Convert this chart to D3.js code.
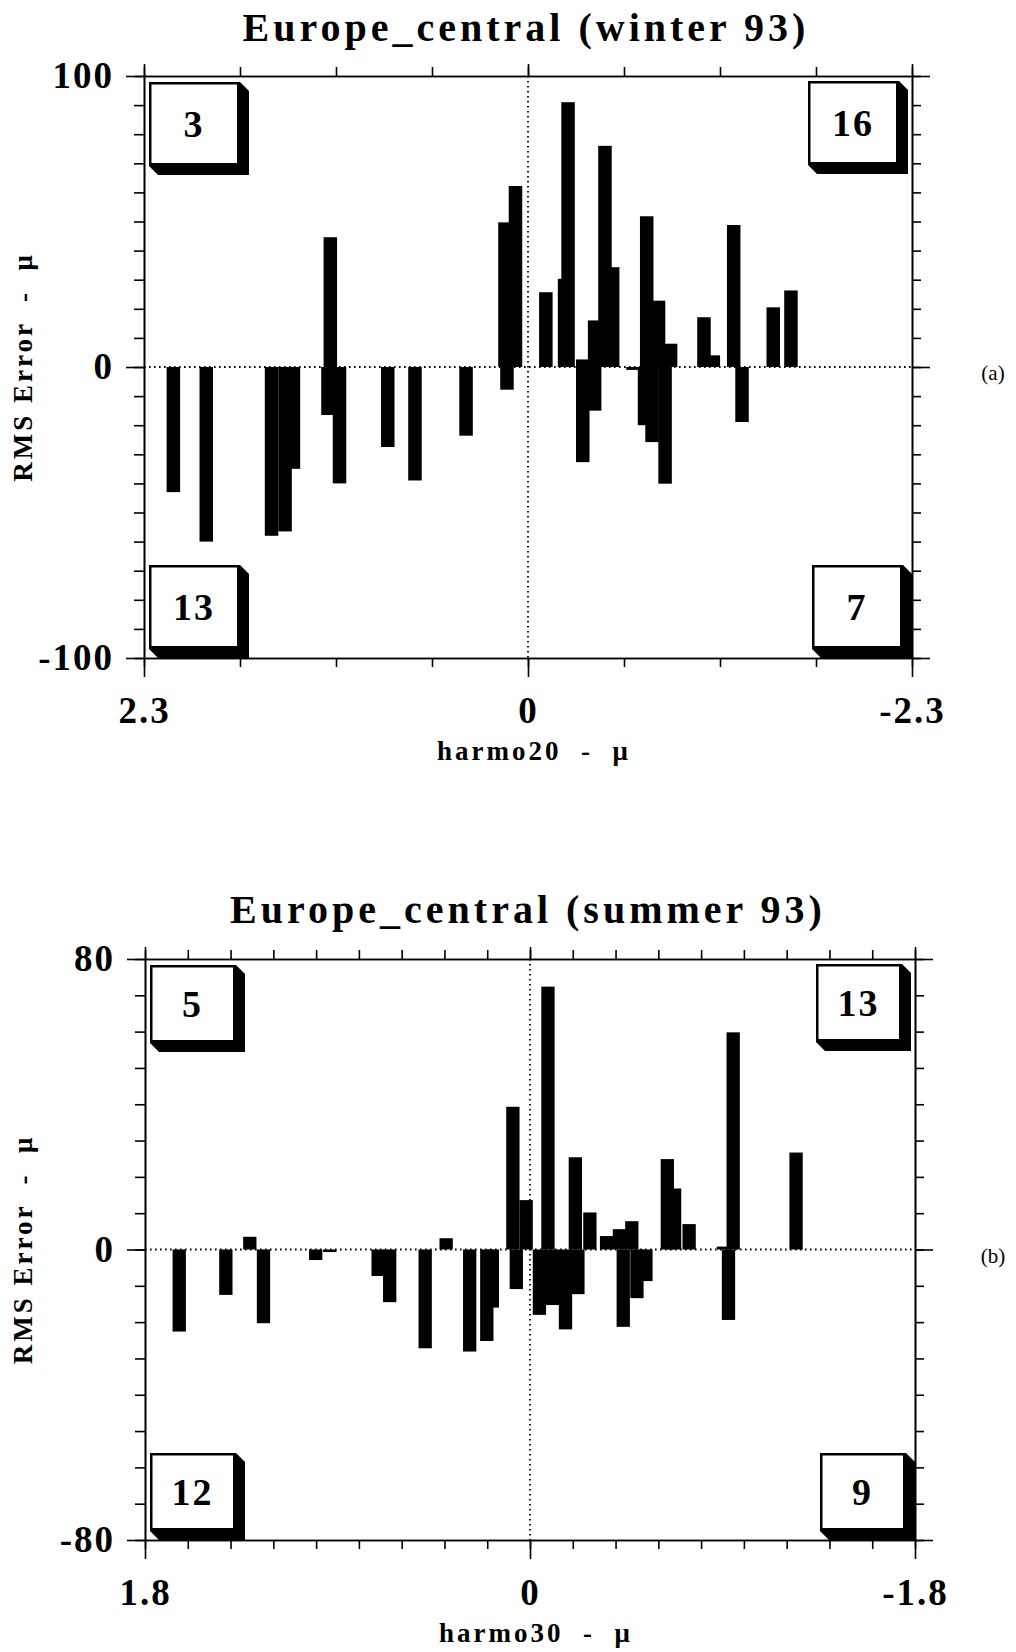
<!DOCTYPE html>
<html>
<head>
<meta charset="utf-8">
<script src="https://cdnjs.cloudflare.com/ajax/libs/d3/7.8.5/d3.min.js"></script>
<style>
  body { margin: 0; background: #fff; }
  svg text { font-family: "Liberation Serif", "Times New Roman", serif; font-weight: bold; fill: #000; }
</style>
</head>
<body>
<div id="chart"></div>
<script>
// panel (a): winter 93
const winterTitle = 'Europe_central (winter 93)';
const winterXTitle = 'harmo20  -  \u03bc';
const winterXLabels = ['2.3', '0', '-2.3'];
const winterYLabels = ['100', '0', '-100'];
const winterCounts = [3, 16, 13, 7]; // upper-left, upper-right, lower-left, lower-right
const winterX = [2.124, 1.927, 1.536, 1.455, 1.405, 1.198, 1.184, 1.129, 0.840, 0.677,
  0.371, 0.138, 0.126, 0.075, -0.107, -0.219, -0.240, -0.328, -0.328, -0.399,
  -0.399, -0.461, -0.507, -0.629, -0.698, -0.711, -0.743, -0.782, -0.821, -0.854,
  -1.054, -1.110, -1.232, -1.282, -1.469, -1.575];
const winterY = [-43, -60, -58, -56.5, -35, -16.5, 44.6, -40, -27.5, -39,
  -23.6, 49.7, -7.8, 62.2, 25.7, 30.3, 91, 2.6, -32.7, 16,
  -15, 76, 34.3, -1, -20, 51.8, -25.8, 22.8, -40.1, 8,
  17.1, 4, 48.8, -18.9, 20.5, 26.3];

// panel (b): summer 93
const summerTitle = 'Europe_central (summer 93)';
const summerXTitle = 'harmo30  -  \u03bc';
const summerXLabels = ['1.8', '0', '-1.8'];
const summerYLabels = ['80', '0', '-80'];
const summerCounts = [5, 13, 12, 9];
const summerX = [1.640, 1.422, 1.310, 1.246, 1.002, 0.936, 0.710, 0.656, 0.490, 0.392,
  0.282, 0.202, 0.176, 0.080, 0.064, 0.018, -0.044, -0.084, -0.106, -0.166,
  -0.224, -0.212, -0.280, -0.358, -0.418, -0.476, -0.436, -0.500, -0.542, -0.642,
  -0.676, -0.744, -0.904, -0.928, -0.950, -1.244];
const summerY = [-22.6, -12.5, 3.5, -20.3, -2.9, -0.7, -7.3, -14.5, -27.2, 3.1,
  -28.1, -25.2, -16, 39.3, -10.9, 13.6, -18, 72.4, -15.3, -22,
  -12.3, 25.4, 10.2, 3.7, 5.6, 7.8, -21.3, -13.4, -8.7, 24.9,
  16.8, 7, 0.8, -19.4, 59.8, 26.7];

const width = 1016, height = 1652;
const svg = d3.select('#chart').append('svg').attr('width', width).attr('height', height);
svg.append('rect').attr('width', width).attr('height', height).attr('fill', '#fff');

function drawPanel(p){
  const g = svg.append('g');
  const x = d3.scaleLinear().domain([p.xMax, -p.xMax]).range([p.left, p.right]);
  const y = d3.scaleLinear().domain([-p.yMax, p.yMax]).range([p.bottom, p.top]);

  const xMinor = d3.range(-p.xMax, p.xMax + p.xStep / 2, p.xStep);
  const yMinor = d3.range(-p.yMax, p.yMax + 0.001, 10);
  const xMajor = [p.xMax, 0, -p.xMax];
  const yMajor = [p.yMax, 0, -p.yMax];

  // title
  g.append('text').attr('x', (p.left + p.right) / 2 - 2).attr('y', p.titleY)
    .attr('text-anchor', 'middle').style('font-size', '40px').style('letter-spacing', '4px')
    .text(p.title);

  // zero lines (dotted)
  g.append('line').attr('x1', p.left).attr('x2', p.right).attr('y1', y(0)).attr('y2', y(0))
    .attr('stroke', '#000').attr('stroke-width', 1.8).attr('stroke-dasharray', '1.6,3.4');
  g.append('line').attr('x1', x(0)).attr('x2', x(0)).attr('y1', p.top).attr('y2', p.bottom)
    .attr('stroke', '#000').attr('stroke-width', 1.8).attr('stroke-dasharray', '1.6,3.4');

  // bars
  const bars = p.xs.map((d, i) => ({x: d, y: p.ys[i]}));
  g.selectAll('rect.bar').data(bars).enter().append('rect').attr('class', 'bar')
    .attr('x', d => x(d.x) - p.barW / 2)
    .attr('y', d => y(Math.max(0, d.y)))
    .attr('width', p.barW)
    .attr('height', d => Math.abs(y(d.y) - y(0)))
    .attr('fill', '#000');

  // axes: minor ticks
  const axes = [
    g.append('g').attr('transform', `translate(${p.left},0)`).call(d3.axisLeft(y).tickValues(yMinor).tickSize(10).tickSizeOuter(0).tickFormat('')),
    g.append('g').attr('transform', `translate(${p.right},0)`).call(d3.axisRight(y).tickValues(yMinor).tickSize(9).tickSizeOuter(0).tickFormat('')),
    g.append('g').attr('transform', `translate(0,${p.top})`).call(d3.axisTop(x).tickValues(xMinor).tickSize(9).tickSizeOuter(0).tickFormat('')),
    g.append('g').attr('transform', `translate(0,${p.bottom})`).call(d3.axisBottom(x).tickValues(xMinor).tickSize(9).tickSizeOuter(0).tickFormat(''))
  ];
  // major ticks with labels
  const yl = g.append('g').attr('transform', `translate(${p.left},0)`)
    .call(d3.axisLeft(y).tickValues(yMajor).tickSize(18).tickSizeOuter(0).tickPadding(12)
      .tickFormat((d, i) => p.yLabels[i]));
  axes.push(yl);
  axes.push(g.append('g').attr('transform', `translate(${p.right},0)`)
    .call(d3.axisRight(y).tickValues(yMajor).tickSize(18).tickSizeOuter(0).tickFormat('')));
  axes.push(g.append('g').attr('transform', `translate(0,${p.top})`)
    .call(d3.axisTop(x).tickValues(xMajor).tickSize(12).tickSizeOuter(0).tickFormat('')));
  const xl = g.append('g').attr('transform', `translate(0,${p.bottom})`)
    .call(d3.axisBottom(x).tickValues(xMajor).tickSize(19).tickSizeOuter(0).tickPadding(20)
      .tickFormat((d, i) => p.xLabels[i]));
  axes.push(xl);
  axes.forEach(a => {
    a.selectAll('path, line').attr('stroke', '#000').attr('stroke-width', 1.6);
    a.selectAll('text').attr('font-family', null).attr('font-size', null)
      .style('font-size', '37px').style('letter-spacing', '2px');
  });

  // axis titles
  g.append('text').attr('x', (p.left + p.right) / 2 + 6).attr('y', p.bottom + 102)
    .attr('text-anchor', 'middle').style('font-size', '27px').style('letter-spacing', '3px')
    .style('white-space', 'pre').text(p.xTitle);
  g.append('text').attr('transform', `translate(32,${y(0)}) rotate(-90)`)
    .attr('text-anchor', 'middle').style('font-size', '27px').style('letter-spacing', '3px')
    .style('white-space', 'pre').text('RMS Error  -  \u03bc');
  g.append('text').attr('x', 993).attr('y', y(0) + 13).attr('text-anchor', 'middle')
    .style('font-size', '21px').style('font-weight', 'normal').text(p.tag);

  // count boxes with shadow
  const bw = p.boxW, bh = p.boxH, s = 12, bev = 9;
  const spots = [
    [p.left + 5, p.top + 6],
    [p.right - 4 - bw, p.top + 5],
    [p.left + 5, p.bottom - bh],
    [p.right - bw, p.bottom - bh]
  ];
  const boxes = g.selectAll('g.box').data(p.counts).enter().append('g').attr('class', 'box')
    .attr('transform', (d, i) => `translate(${spots[i][0]},${spots[i][1]})`);
  boxes.append('path').attr('fill', '#000')
    .attr('d', `M0,0 H${bw - bev} L${bw},${bev} V${bh} H${bev} L0,${bh - bev} Z`);
  boxes.append('rect').attr('x', 2.5).attr('y', 2.5)
    .attr('width', bw - s - 2.5).attr('height', bh - s - 2.5).attr('fill', '#fff');
  boxes.append('text').attr('x', (bw - s) / 2 + 1).attr('y', (bh - s) / 2 + 14)
    .attr('text-anchor', 'middle').style('font-size', '38px').style('letter-spacing', '2px')
    .text(d => d);
}

drawPanel({
  title: winterTitle, xTitle: winterXTitle, tag: '(a)',
  xLabels: winterXLabels, yLabels: winterYLabels, counts: winterCounts,
  xs: winterX, ys: winterY,
  xMax: 2.3, xStep: 0.575, yMax: 100,
  left: 144, right: 912, top: 76, bottom: 658, titleY: 41,
  barW: 13.5, boxW: 100, boxH: 93
});

drawPanel({
  title: summerTitle, xTitle: summerXTitle, tag: '(b)',
  xLabels: summerXLabels, yLabels: summerYLabels, counts: summerCounts,
  xs: summerX, ys: summerY,
  xMax: 1.8, xStep: 0.2, yMax: 80,
  left: 145, right: 915, top: 959, bottom: 1540, titleY: 923,
  barW: 13.3, boxW: 95, boxH: 87
});
</script>
</body>
</html>
